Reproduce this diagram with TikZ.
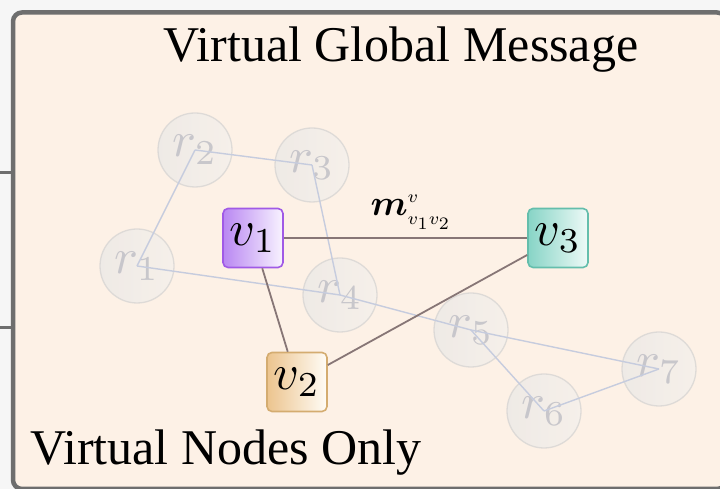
\documentclass[tikz,border=0pt]{standalone}
\usepackage{bm}
\usepackage{fontspec}
\setmainfont{Liberation Serif}
\usetikzlibrary{shadings}
\definecolor{peach}{RGB}{253,241,230}
\definecolor{framegray}{RGB}{110,110,110}
\definecolor{outbg}{RGB}{246,246,246}
\definecolor{vonebd}{RGB}{160,90,230}
\definecolor{vonel}{RGB}{185,135,242}
\definecolor{voner}{RGB}{248,243,255}
\definecolor{vthreebd}{RGB}{100,190,172}
\definecolor{vthreel}{RGB}{135,212,198}
\definecolor{vthreer}{RGB}{238,250,247}
\definecolor{vtwobd}{RGB}{212,172,112}
\definecolor{vtwol}{RGB}{236,196,142}
\definecolor{vtwor}{RGB}{255,252,246}
\definecolor{rbd}{RGB}{214,212,210}
\definecolor{rfilll}{RGB}{234,232,230}
\definecolor{rfillr}{RGB}{244,240,236}
\definecolor{rtext}{RGB}{186,186,194}
\definecolor{redge}{RGB}{198,204,222}
\definecolor{vedge}{RGB}{135,118,118}
% 1 reference pixel = 0.2pt
\tikzset{
  vbox/.style={rectangle, rounded corners=1pt, minimum width=12pt, minimum height=11.8pt,
    line width=0.32pt, inner sep=0pt, font=\fontsize{10.4}{12}\selectfont},
  rcirc/.style={circle, minimum size=14.8pt, inner sep=0pt, draw=rbd, line width=0.26pt,
    left color=rfilll, right color=rfillr, text=rtext, font=\fontsize{9.8}{11}\selectfont},
  redgestyle/.style={draw=redge, line width=0.28pt},
  vedgestyle/.style={draw=vedge, line width=0.36pt},
  bigtext/.style={inner sep=0pt, font=\fontsize{10}{12}\selectfont}
}
\begin{document}
\begin{tikzpicture}[x=0.2pt, y=-0.2pt]
\useasboundingbox (0,0) rectangle (720,489);
\fill[outbg] (0,0) rectangle (720,489);
\begin{scope}
\clip (0,0) rectangle (720,489);
\draw[framegray, line width=0.9pt, fill=peach, rounded corners=1.8pt] (13,12.5) rectangle (726,489);
\end{scope}
\coordinate (ta) at (0,173);
\coordinate (tb) at (0,328);
\coordinate (fa) at (12,173);
\coordinate (fb) at (12,328);
\draw[framegray, line width=0.6pt] (ta) -- (fa);
\draw[framegray, line width=0.6pt] (tb) -- (fb);

\node[bigtext, anchor=base] (title) at (401,62) {Virtual Global Message};
\node[bigtext, anchor=base west] (foot) at (29,465) {Virtual Nodes Only};

% faded real nodes
\begin{scope}[opacity=0.75]
\node[rcirc] (r1) at (137,266) {$r_1$};
\node[rcirc] (r2) at (195,150) {$r_2$};
\node[rcirc] (r3) at (312,165) {$r_3$};
\node[rcirc] (r4) at (340,295) {$r_4$};
\node[rcirc] (r5) at (471,330) {$r_5$};
\node[rcirc] (r6) at (544,411) {$r_6$};
\node[rcirc] (r7) at (659,369) {$r_7$};
\end{scope}
\path[redgestyle] (r2.center) -- (r3.center);
\path[redgestyle] (r2.center) -- (r1.center);
\path[redgestyle] (r3.center) -- (r4.center);
\path[redgestyle] (r1.center) -- (r4.center);
\path[redgestyle] (r4.center) -- (r5.center);
\path[redgestyle] (r5.center) -- (r7.center);
\path[redgestyle] (r5.center) -- (r6.center);
\path[redgestyle] (r6.center) -- (r7.center);

% virtual nodes
\node[vbox, draw=vonebd, left color=vonel, right color=voner] (v1) at (253,238) {$v_1$};
\node[vbox, draw=vthreebd, left color=vthreel, right color=vthreer] (v3) at (558,238) {$v_3$};
\node[vbox, draw=vtwobd, left color=vtwol, right color=vtwor] (v2) at (297,382) {$v_2$};

\path[vedgestyle] (v1) -- (v3);
\path[vedgestyle] (v1) -- (v2);
\path[vedgestyle] (v2) -- (v3);

\coordinate (mc) at (411,212);
\node[inner sep=0pt, scale=0.5, transform shape, font=\fontsize{13.6}{16}\selectfont] (msg) at (mc) {$\bm{m}^{\scriptscriptstyle v}_{\scriptscriptstyle v_1v_2}$};
\end{tikzpicture}
\end{document}
